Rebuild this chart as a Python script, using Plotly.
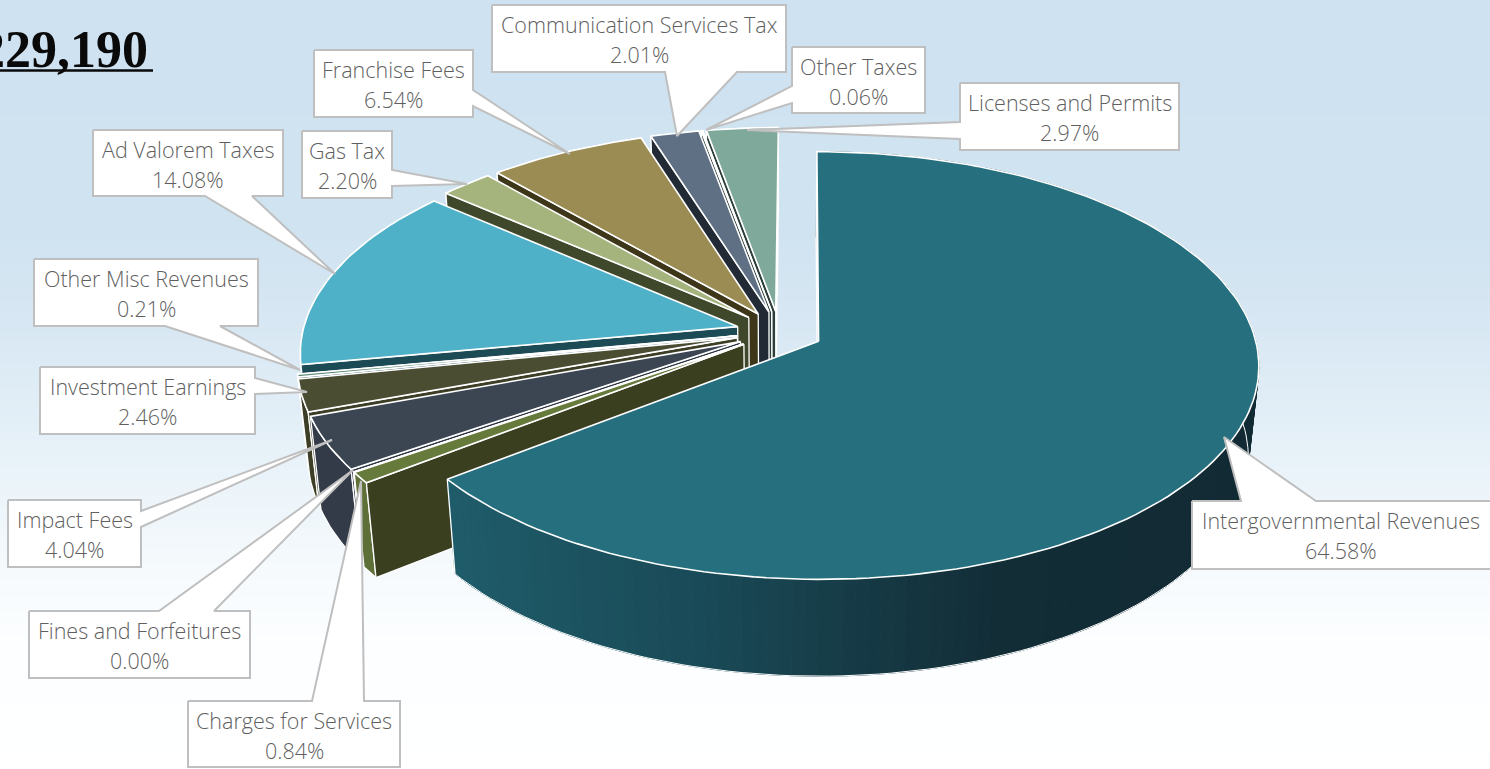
import math
import numpy as np
import plotly.graph_objects as go

# Revenue shares, clockwise from twelve o'clock
categories = ["Intergovernmental Revenues", "Charges for Services", "Fines and Forfeitures",
              "Impact Fees", "Investment Earnings", "Other Misc Revenues", "Ad Valorem Taxes",
              "Gas Tax", "Franchise Fees", "Communication Services Tax", "Other Taxes",
              "Licenses and Permits"]
shares = [64.58, 0.84, 0.00, 4.04, 2.46, 0.21, 14.08, 2.20, 6.54, 2.01, 0.06, 2.97]
headline = "229,190"

top_colors = ["#256f7e", "#667a3c", "#8a8f70", "#3c4653", "#4b4d33", "#5d8a78",
              "#4eb1c8", "#a4b47c", "#9a8c52", "#5f7084", "#6f8a7f", "#7fa99a"]
side_colors = ["#b9c6cd", "#3a3f20", "#3a3f20", "#303844", "#3c3f25", "#1c4a55",
               "#1c4a55", "#40482c", "#3e3619", "#212a35", "#2c3f3a", "#2c3f3a"]
rim_colors = ["#122a33", "#5e7038", "#3a3f20", "#323b47", "#3c3f25", "#1c4a55",
              "#1c4a55", "#40482c", "#3e3619", "#212a35", "#2c3f3a", "#2c3f3a"]

# Perspective camera used to project the exploded pie on to the page
OX, OY = 779.5, 332.0
SX, SY = 435.0, 209.0
SKEW = 2.5
TILT = 0.1127
DROP = 93.0
DEPTH_SHRINK = 0.022
EXPLODE = 0.10

# Callouts: box (left, top, right, bottom), tail base points and tail tip, in page pixels
callouts = {
    "Intergovernmental Revenues": ((1192, 501, 1492, 569), "top", (1241, 501), (1316, 501), (1224, 437)),
    "Charges for Services": ((188, 701, 400, 767), "top", (312, 701), (364, 701), (361, 481)),
    "Fines and Forfeitures": ((29, 611, 250, 678), "top", (159, 611), (214, 611), (353, 470)),
    "Impact Fees": ((8, 500, 141, 567), "right", (141, 511), (141, 527), (332, 440)),
    "Investment Earnings": ((40, 367, 255, 434), "right", (255, 378), (255, 394), (307, 392)),
    "Other Misc Revenues": ((34, 259, 258, 326), "bottom", (165, 326), (220, 326), (300, 370)),
    "Ad Valorem Taxes": ((93, 130, 283, 196), "bottom", (205, 196), (252, 196), (335, 274)),
    "Gas Tax": ((302, 131, 392, 198), "right", (392, 170), (392, 186), (467, 184)),
    "Franchise Fees": ((314, 50, 473, 117), "right", (473, 90), (473, 106), (570, 154)),
    "Communication Services Tax": ((492, 5, 786, 72), "bottom", (665, 72), (737, 72), (677, 136)),
    "Other Taxes": ((792, 47, 925, 113), "left", (792, 86), (792, 103), (706, 130)),
    "Licenses and Permits": ((960, 83, 1179, 150), "left", (960, 122), (960, 139), (747, 130)),
}

# Page background: pixel row and its colour
bg_rows = [0, 230, 320, 420, 500, 570, 640, 769]
bg_colors = ["#cfe2f1", "#d0e3f1", "#d7e7f3", "#e3eff7", "#edf5fa", "#f6fafd", "#fcfeff", "#ffffff"]

# Front wall shading of the large slice: pixel column and its colour
wall_cols = [447, 720, 1000, 1260]
wall_rgb = [(31, 92, 106), (25, 72, 85), (18, 45, 54), (18, 42, 51)]


def project(px, py, z=0.0):
    w = 1 + TILT * py + DEPTH_SHRINK * z
    return OX + (SX * px + SKEW * py) / w, OY + (-SY * py + DROP * z) / w


def wedge_points(a0, a1, cx, cy, n):
    th = np.linspace(a0, a1, n)
    return cx + np.sin(th), cy + np.cos(th)


def poly(fig, xs, ys, fill, line="#ffffff", width=1.3):
    fig.add_trace(go.Scatter(x=list(xs), y=list(ys), mode="lines", fill="toself", fillcolor=fill,
                             line=dict(color=line, width=width), hoverinfo="skip", showlegend=False))


def path(fig, xs, ys, color="#ffffff", width=1.3):
    fig.add_trace(go.Scatter(x=list(xs), y=list(ys), mode="lines", line=dict(color=color, width=width),
                             hoverinfo="skip", showlegend=False))


def wall_color(x):
    c = [np.interp(x, wall_cols, [r[i] for r in wall_rgb]) for i in range(3)]
    return "rgb(%d,%d,%d)" % tuple(int(round(v)) for v in c)


def side_of(a, b, p):
    return (b[0] - a[0]) * (p[1] - a[1]) - (b[1] - a[1]) * (p[0] - a[0])


fig = go.Figure()

# Vertical gradient behind everything
span = bg_rows[-1] - bg_rows[0]
fig.add_trace(go.Heatmap(x=[0, 1490], y=bg_rows, z=[[r, r] for r in bg_rows], zsmooth="best",
                         colorscale=[[r / span, c] for r, c in zip(bg_rows, bg_colors)],
                         showscale=False, hoverinfo="skip", zmin=0, zmax=span))

# Slice angles from the shares
total = sum(shares)
edges = np.cumsum([0] + shares) / total * 2 * math.pi
wedges = []
for i, name in enumerate(categories):
    a0, a1 = edges[i], edges[i + 1]
    mid = (a0 + a1) / 2
    wedges.append((i, a0, a1, EXPLODE * math.sin(mid), EXPLODE * math.cos(mid)))

# Paint far slices first, the large slice last
for i, a0, a1, cx, cy in [wedges[k] for k in range(len(wedges) - 1, -1, -1)]:
    n = max(2, int((a1 - a0) / math.radians(1.5)) + 2)
    rx, ry = wedge_points(a0, a1, cx, cy, n)
    tx, ty = zip(*[project(a, b) for a, b in zip(rx, ry)])
    bx, by = zip(*[project(a, b, 1) for a, b in zip(rx, ry)])
    apex = project(cx, cy)
    inner = project(*[v[n // 2] for v in wedge_points(a0, a1, cx, cy, n)])

    # Outer wall goes down first; anything facing away ends up underneath
    if i == 0:
        for k in range(n - 1):
            q = [(tx[k], ty[k]), (tx[k + 1], ty[k + 1]), (bx[k + 1], by[k + 1]), (bx[k], by[k])]
            col = wall_color((tx[k] + tx[k + 1]) / 2)
            poly(fig, [p[0] for p in q] + [q[0][0]], [p[1] for p in q] + [q[0][1]], col, col, 1)
        path(fig, bx, by, "#ffffff", 1.0)
        path(fig, [tx[-1], bx[-1]], [ty[-1], by[-1]])
    else:
        poly(fig, list(tx) + list(bx[::-1]) + [tx[0]], list(ty) + list(by[::-1]) + [ty[0]], rim_colors[i])

    # Radial walls that face the camera
    for k in (-1, 0):
        edge_pt = (rx[k], ry[k])
        rim_top = project(*edge_pt)
        rim_low = project(*edge_pt, 1)
        if side_of(apex, rim_top, inner) * side_of(apex, rim_top, rim_low) <= 0:
            pts = [apex, rim_top, rim_low, project(cx, cy, 1), apex]
            poly(fig, [p[0] for p in pts], [p[1] for p in pts], side_colors[i])

    # Top face
    poly(fig, [apex[0]] + list(tx) + [apex[0]], [apex[1]] + list(ty) + [apex[1]], top_colors[i], "#ffffff", 1.6)

# Callout boxes with their pointers and labels
annotations = []
for name, value in zip(categories, shares):
    (l, t, r, b), edge, p1, p2, tip = callouts[name]
    if edge == "top":
        pts = [(l, t), p1, tip, p2, (r, t), (r, b), (l, b)]
    elif edge == "right":
        pts = [(l, t), (r, t), p1, tip, p2, (r, b), (l, b)]
    elif edge == "bottom":
        pts = [(l, t), (r, t), (r, b), p2, tip, p1, (l, b)]
    else:
        pts = [(l, t), (r, t), (r, b), (l, b), p2, tip, p1]
    pts.append(pts[0])
    poly(fig, [p[0] for p in pts], [p[1] for p in pts], "#ffffff", "#bfbfbf", 2)
    mid_x = (l + r) / 2 - (1 if r > 1490 else 0)
    for text, y in ((name, t + 19), (f"{value:.2f}%", t + 49)):
        annotations.append(dict(x=mid_x, y=y, xref="x", yref="y", text=text, showarrow=False,
                                xanchor="center", yanchor="middle",
                                font=dict(family="Open Sans", size=21.5, color="#5f5f5f", weight=300)))

annotations.append(dict(x=150, y=49, xref="x", yref="y", text=headline, showarrow=False,
                        xanchor="right", yanchor="middle",
                        font=dict(family="Liberation Serif", size=52, color="#0a0a0a", weight="bold")))

fig.update_layout(
    width=1490, height=769, margin=dict(l=0, r=0, t=0, b=0),
    paper_bgcolor="#ffffff", plot_bgcolor="#ffffff", showlegend=False,
    xaxis=dict(range=[0, 1490], visible=False, fixedrange=True),
    yaxis=dict(range=[769, 0], visible=False, fixedrange=True),
    annotations=annotations,
    shapes=[dict(type="line", xref="x", yref="y", x0=0, x1=153, y0=70.5, y1=70.5,
                 line=dict(color="#0a0a0a", width=2.5))],
)

fig.write_html("out.html", config={"displayModeBar": False})
